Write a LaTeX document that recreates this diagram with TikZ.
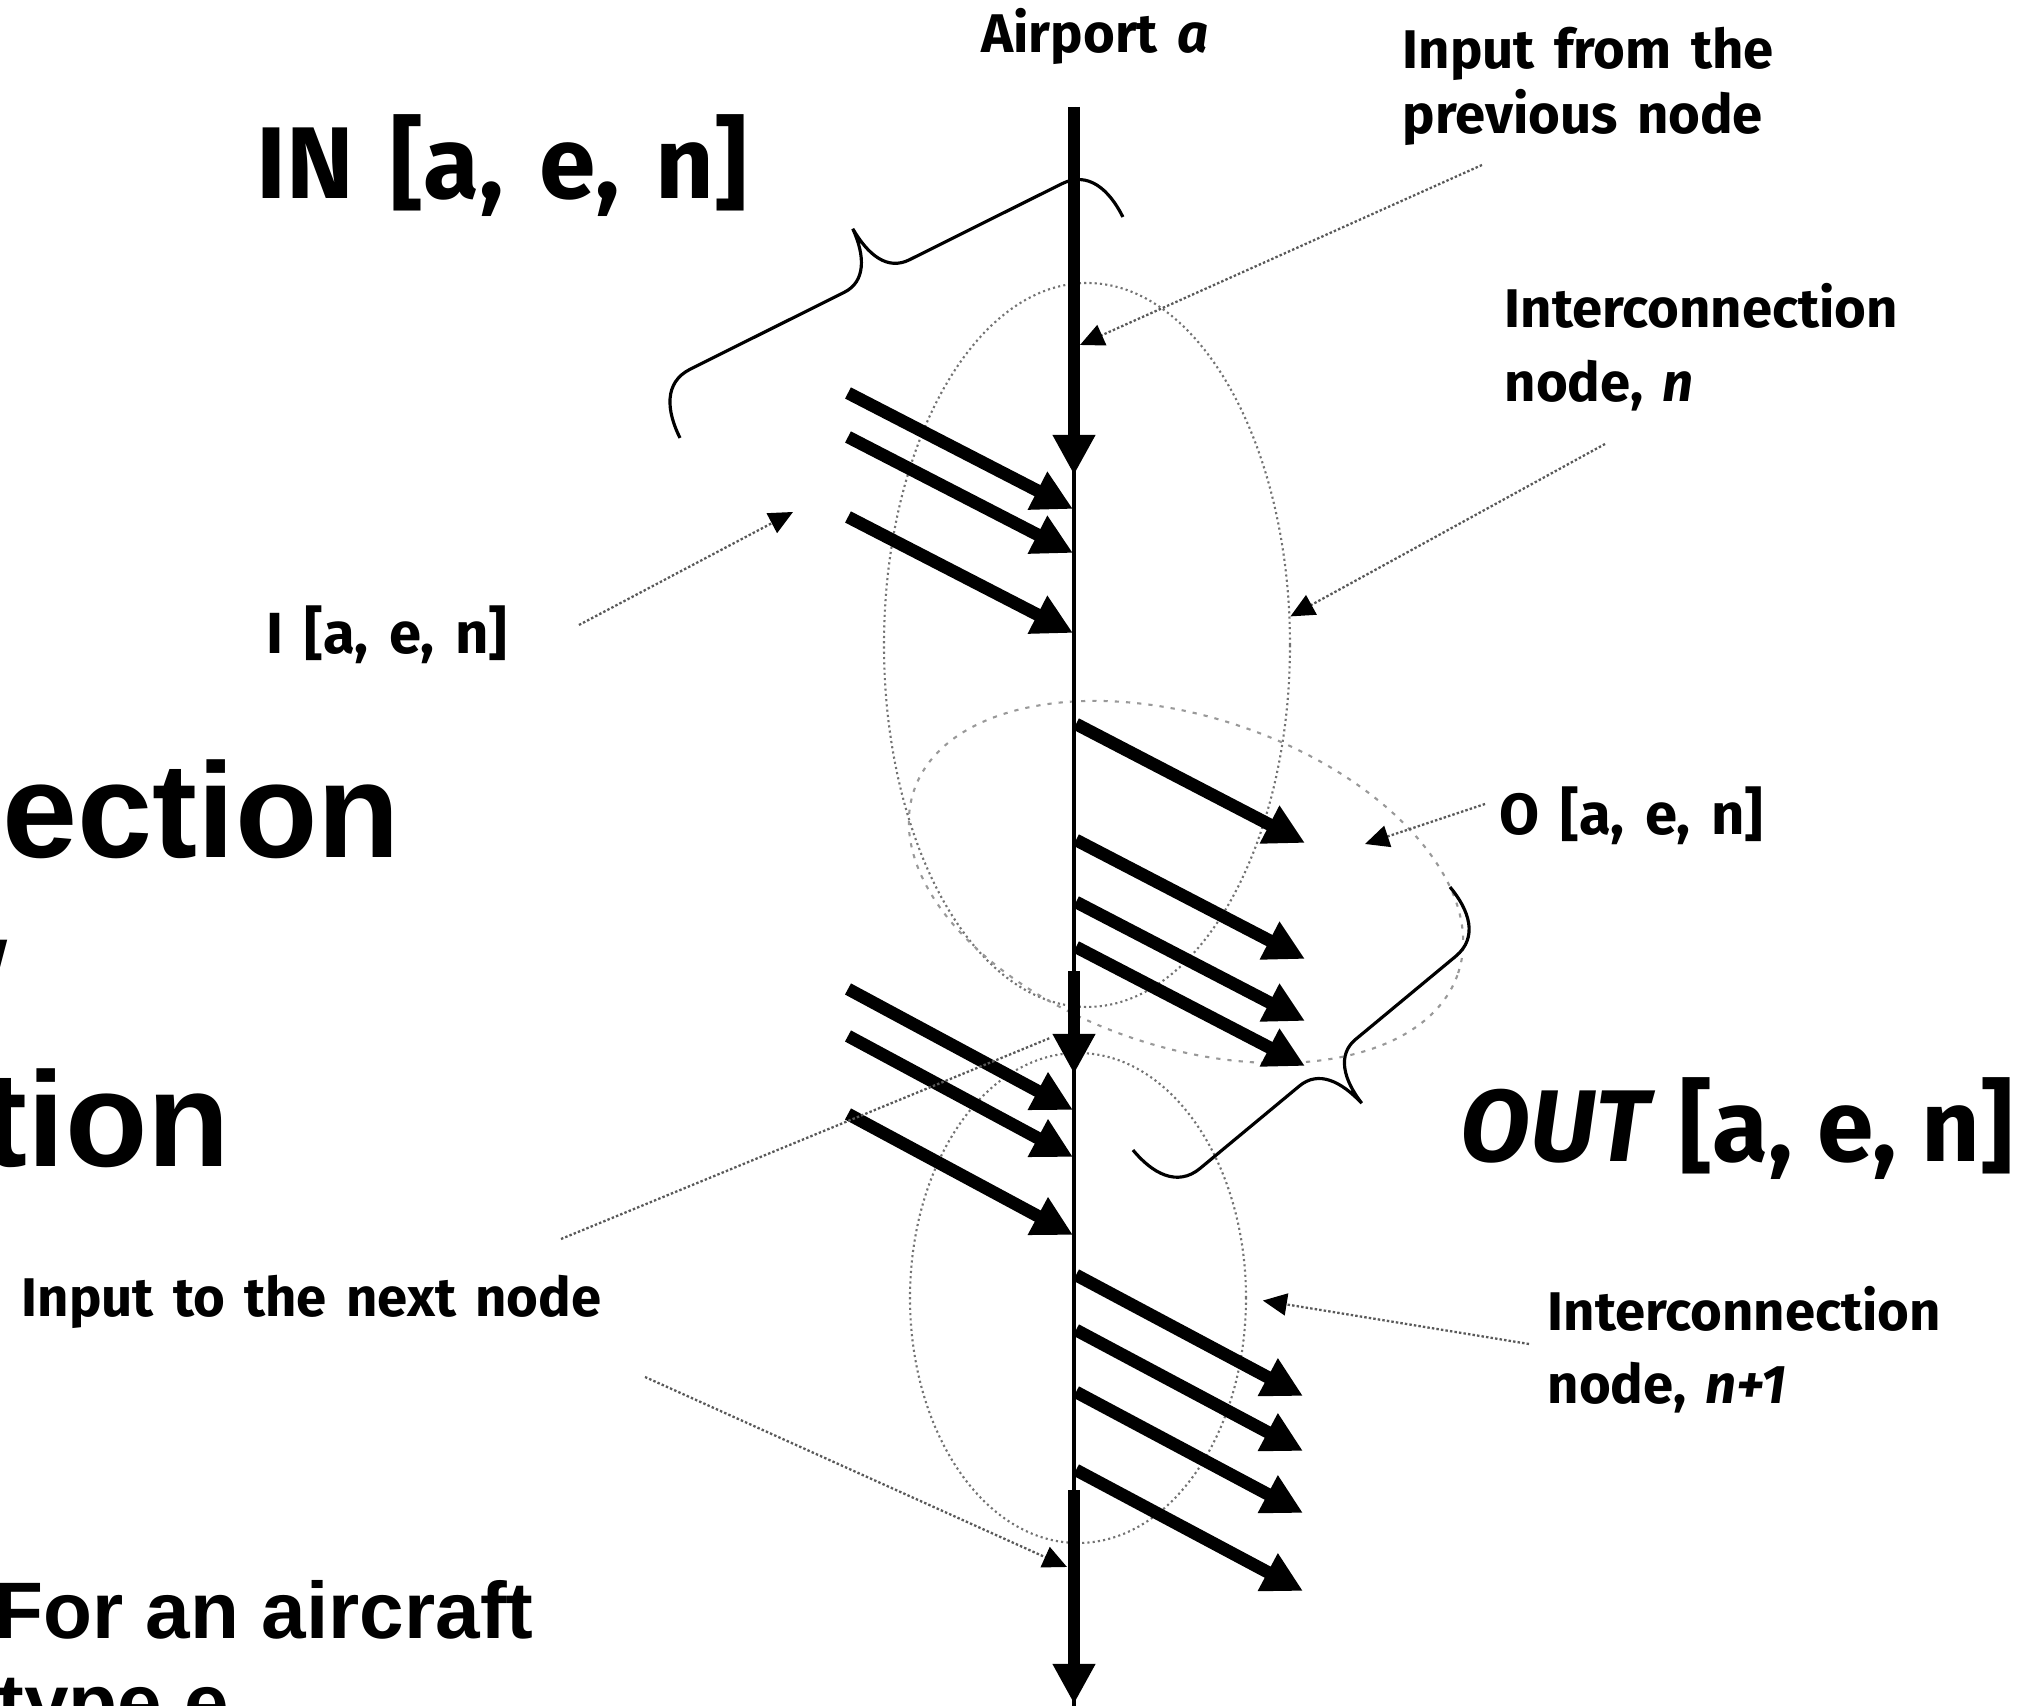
\documentclass[tikz,border=0pt]{standalone}
\usepackage{fontspec}
\setmainfont{Fira Sans}
\newfontfamily\slidefont{Liberation Sans}
\newfontfamily\lblfont[WordSpace=1.8]{Fira Sans}
\newfontfamily\setfont[WordSpace=2.9]{Fira Sans}
\newfontfamily\infont[WordSpace=1.5]{Fira Sans}
\usetikzlibrary{arrows.meta,positioning,shapes.geometric}

\begin{document}
\begin{tikzpicture}[
  lbl/.style={font=\lblfont\bfseries\fontsize{15.5}{18}\selectfont,inner sep=0pt},
  setlbl/.style={font=\setfont\bfseries\fontsize{16.5}{19}\selectfont,inner sep=0pt},
  biglbl/.style={font=\bfseries\fontsize{29}{34}\selectfont,inner sep=0pt},
  slide/.style={font=\slidefont\bfseries\fontsize{38.4}{46}\selectfont,inner sep=0pt},
  slidesmall/.style={font=\slidefont\bfseries\fontsize{22.8}{27}\selectfont,inner sep=0pt},
  ring/.style={ellipse,draw=black!55,line width=.6pt,dash pattern=on .6pt off .9pt,inner sep=0pt},
  flow/.style={-{Triangle[length=4mm,width=4mm]},line width=3.6pt},
  axis/.style={line width=.9pt},
  leader/.style={draw=black!65,line width=.65pt,dash pattern=on .7pt off .6pt},
  tip/.style={-{Triangle[length=2.4mm,width=2.2mm,black]}},
  curly/.style={line width=.9pt}
]
\useasboundingbox (0,0) rectangle (20.34,17.06);

% slide text behind the figure
\node[slide,anchor=base east] (slide1) at (4.01,8.48) {ection};
\node[slide,anchor=base east] (slide2) at (0.08,6.94) {w};
\node[slide,anchor=base east] (slide3) at (2.31,5.39) {tion};
\node[slidesmall,anchor=base west] (aircraft) at (-0.06,0.67) {For an aircraft};
\node[slidesmall,anchor=base west] (typee) at (-0.03,-0.25) {type e};

% interconnection nodes
\node[ring,minimum width=4.06cm,minimum height=7.24cm] (noden) at (10.87,10.61) {};
\node[ring,draw=black!40,dash pattern=on 1.2pt off 2pt,minimum width=5.74cm,
  minimum height=3.3cm,rotate=-18.5] (nodeo) at (11.86,8.24) {};
\node[ring,minimum width=3.36cm,minimum height=4.9cm] (nodenn) at (10.78,4.08) {};

% airport axis
\coordinate (top) at (10.74,15.99);
\coordinate (bottom) at (10.74,0);
\coordinate (s1) at (10.74,12.31);
\coordinate (s2a) at (10.74,7.35);
\coordinate (s2b) at (10.74,6.32);
\coordinate (s3a) at (10.74,2.16);
\coordinate (s3b) at (10.74,0.02);
\draw[axis] (top) -- (bottom);
\draw[flow] (top) -- (s1);
\draw[flow] (s2a) -- (s2b);
\draw[flow] (s3a) -- (s3b);

% inputs
\foreach \s [count=\i] in {13.13,12.69,11.89} {
  \coordinate (ia\i) at (8.48,\s);
  \coordinate (ib\i) at ([shift={(2.25,-1.16)}]ia\i);
  \draw[flow] (ia\i) -- (ib\i);
}
\foreach \s [count=\i] in {7.17,6.70,5.92} {
  \coordinate (ja\i) at (8.48,\s);
  \coordinate (jb\i) at ([shift={(2.25,-1.21)}]ja\i);
  \draw[flow] (ja\i) -- (jb\i);
}
% outputs
\foreach \s [count=\i] in {9.82,8.66,8.04,7.59} {
  \coordinate (oa\i) at (10.76,\s);
  \coordinate (ob\i) at ([shift={(2.29,-1.19)}]oa\i);
  \draw[flow] (oa\i) -- (ob\i);
}
\foreach \s [count=\i] in {4.31,3.76,3.14,2.36} {
  \coordinate (pa\i) at (10.76,\s);
  \coordinate (pb\i) at ([shift={(2.27,-1.21)}]pa\i);
  \draw[flow] (pa\i) -- (pb\i);
}

% braces
\coordinate (inbra) at (6.80,12.68);
\coordinate (outbra) at (14.50,8.19);
\begin{scope}[shift={(inbra)},rotate=26.52]
  \draw[curly] (0,0) .. controls (0,0.3) and (0.1,0.57) .. (0.4,0.57) -- (2.12,0.57)
    .. controls (2.36,0.57) and (2.47,0.8) .. (2.48,1.10)
    .. controls (2.5,0.8) and (2.6,0.57) .. (2.85,0.57) -- (4.55,0.57)
    .. controls (4.85,0.57) and (4.95,0.3) .. (4.95,0);
\end{scope}
\begin{scope}[shift={(outbra)},rotate=219.68]
  \draw[curly] (0,0) .. controls (0,0.3) and (0.1,0.57) .. (0.4,0.57) -- (1.7,0.57)
    .. controls (1.94,0.57) and (2.05,0.8) .. (2.06,1.10)
    .. controls (2.08,0.8) and (2.18,0.57) .. (2.43,0.57) -- (3.72,0.57)
    .. controls (4.02,0.57) and (4.12,0.3) .. (4.12,0);
\end{scope}

% labels
\node[lbl,anchor=base] (airport) at (10.95,16.53) {Airport \textit{a}};
\node[lbl,anchor=base west] (prev1) at (14.02,16.37) {Input from the};
\node[lbl,anchor=base west] (prev2) at ([yshift=-6.5mm]prev1.base west) {previous node};
\node[biglbl,anchor=base west,font=\infont\bfseries\fontsize{29}{34}\selectfont] (inlbl) at (2.56,15.07) {IN [a, e, n]};
\node[lbl,anchor=base west] (ic1) at (15.04,13.78) {Interconnection};
\node[lbl,anchor=base west] (ic2) at ([yshift=-7.4mm]ic1.base west) {node, \textit{n}};
\node[setlbl,anchor=base west] (ilbl) at (2.66,10.52) {I [a, e, n]};
\node[setlbl,anchor=base west] (olbl) at (14.99,8.71) {O [a, e, n]};
\node[biglbl,anchor=base west] (outlbl) at (14.60,5.44) {\textit{OUT} [a, e, n]};
\node[lbl,anchor=base west] (icc1) at (15.47,3.75) {Interconnection};
\node[lbl,anchor=base west] (icc2) at ([yshift=-7.3mm]icc1.base west) {node, \textit{n+1}};
\node[lbl,anchor=base west] (nextlbl) at (0.21,3.89) {Input to the next node};

% leaders
\coordinate (prevtail) at ([shift={(0.80,-0.31)}]prev2.base west);
\coordinate (prevtip) at (10.80,13.61);
\draw[leader,tip] (prevtail) -- (prevtip);
\coordinate (ictail) at ([shift={(1.01,-0.42)}]ic2.base west);
\draw[leader,tip] (ictail) -- (noden.8);
\coordinate (itail) at (5.79,10.81);
\coordinate (itip) at (7.93,11.94);
\draw[leader,tip] (itail) -- (itip);
\coordinate (otail) at ([shift={(-0.14,0.31)}]olbl.base west);
\coordinate (otip) at (13.65,8.62);
\draw[leader,tip] (otail) -- (otip);
\coordinate (icctail) at ([shift={(-0.18,-0.13)}]icc1.base west);
\draw[leader,tip,shorten >=1.6mm] (icctail) -- (nodenn.east);
\coordinate (nexttaila) at ([shift={(5.40,0.78)}]nextlbl.base west);
\coordinate (nexttipa) at (10.50,6.68);
\draw[leader] (nexttaila) -- (nexttipa);
\coordinate (nexttailb) at ([shift={(6.24,-0.60)}]nextlbl.base west);
\coordinate (nexttipb) at (10.67,1.39);
\draw[leader,tip] (nexttailb) -- (nexttipb);
\end{tikzpicture}
\end{document}
